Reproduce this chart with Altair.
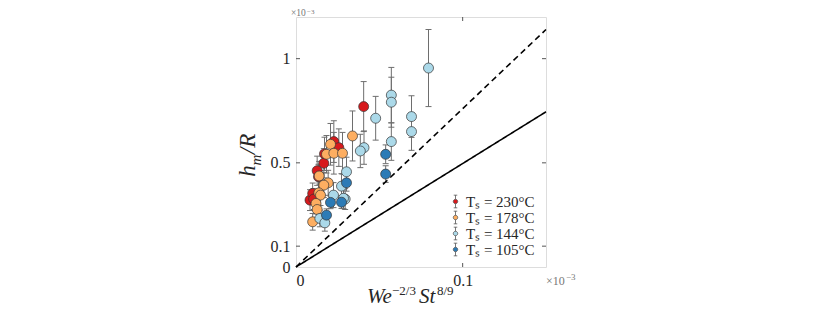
import altair as alt
import pandas as pd

# ---- data (x in units of 1e-3, y in units of 1e-3) ----
s230_x = [0.0406, 0.0227, 0.0257, 0.0171, 0.0167, 0.0127, 0.0135, 0.0084, 0.0100, 0.0106]
s230_y = [0.770, 0.602, 0.573, 0.543, 0.498, 0.462, 0.433, 0.321, 0.353, 0.326]
s230_e = [0.120, 0.100, 0.090, 0.080, 0.070, 0.070, 0.060, 0.050, 0.050, 0.050]

s178_x = [0.0339, 0.0207, 0.0183, 0.0227, 0.0279, 0.0139, 0.0193, 0.0167, 0.0137, 0.0147, 0.0120, 0.0127, 0.0100]
s178_y = [0.629, 0.589, 0.541, 0.546, 0.546, 0.437, 0.404, 0.393, 0.356, 0.345, 0.305, 0.276, 0.217]
s178_e = [0.120, 0.100, 0.090, 0.100, 0.100, 0.070, 0.060, 0.060, 0.060, 0.050, 0.050, 0.050, 0.040]

s144_x = [0.0795, 0.0572, 0.0572, 0.0478, 0.0693, 0.0693, 0.0572, 0.0408, 0.0386, 0.0303, 0.0273, 0.0225, 0.0295, 0.0285, 0.0143, 0.0173]
s144_y = [0.955, 0.825, 0.791, 0.714, 0.722, 0.650, 0.602, 0.573, 0.557, 0.457, 0.388, 0.345, 0.326, 0.330, 0.233, 0.212]
s144_e = [0.185, 0.133, 0.120, 0.105, 0.100, 0.090, 0.090, 0.080, 0.080, 0.070, 0.060, 0.060, 0.050, 0.050, 0.040, 0.040]

s105_x = [0.0538, 0.0538, 0.0303, 0.0273, 0.0207, 0.0183]
s105_y = [0.541, 0.446, 0.404, 0.311, 0.310, 0.249]
s105_e = [0.045, 0.040, 0.040, 0.030, 0.030, 0.030]

series_labels = ["Tₛ = 230°C", "Tₛ = 178°C", "Tₛ = 144°C", "Tₛ = 105°C"]
series_colors = ["#d7191c", "#fdae61", "#abd9e9", "#2c7bb6"]

line_x = [0.0, 0.15]
solid_y = [0.0, 0.745]
dashed_y = [0.0, 1.14]

x_ticks = [0.0, 0.1]
y_ticks = [0.0, 0.1, 0.5, 1.0]

rows = []
for lab, xs, ys, es in zip(series_labels,
                           [s230_x, s178_x, s144_x, s105_x],
                           [s230_y, s178_y, s144_y, s105_y],
                           [s230_e, s178_e, s144_e, s105_e]):
    for x, y, e in zip(xs, ys, es):
        rows.append({"series": lab, "x": x, "y": y, "lo": y - e, "hi": y + e,
                     "order": series_labels.index(lab)})
df = pd.DataFrame(rows)
lines_df = pd.DataFrame({"x": line_x * 2, "y": solid_y + dashed_y,
                         "kind": ["solid", "solid", "dashed", "dashed"]})

W, H = 250, 250
FONT = "Liberation Serif"
TXT = "#262626"
ERR = "#6e6e6e"

xs = alt.Scale(domain=[0, 0.15], nice=False, zero=False)
ys = alt.Scale(domain=[0, 1.2], nice=False, zero=False)

xenc = alt.X("x:Q", scale=xs, axis=alt.Axis(values=x_ticks, title=None, ticks=False, domain=False,
                                             grid=False, labelFont=FONT, labelFontSize=16,
                                             labelColor=TXT, labelPadding=5,
                                             labelExpr="datum.value == 0 ? '0' : format(datum.value, '.1f')"))
yenc = alt.Y("lo:Q", scale=ys, axis=alt.Axis(values=y_ticks, title=None, ticks=False, domain=False,
                                              grid=False, labelFont=FONT, labelFontSize=16,
                                              labelColor=TXT, labelPadding=6,
                                              labelExpr="datum.value == 0 ? '0' : datum.value == 1 ? '1' : format(datum.value, '.1f')"))

base = alt.Chart(df)

errbars = base.mark_rule(color=ERR, strokeWidth=1).encode(x=xenc, y=yenc, y2="hi:Q")
cap_shape = "M -1 0 L 1 0"
caps_lo = base.mark_point(shape=cap_shape, size=36, stroke=ERR, strokeWidth=1, filled=False,
                          opacity=1).encode(x="x:Q", y="lo:Q")
caps_hi = base.mark_point(shape=cap_shape, size=36, stroke=ERR, strokeWidth=1, filled=False,
                          opacity=1).encode(x="x:Q", y="hi:Q")

legend_path = ("M -0.35 0 A 0.35 0.35 0 1 0 0.35 0 A 0.35 0.35 0 1 0 -0.35 0 Z "
               "M 0 -1 L 0 -0.35 M 0 0.35 L 0 1 M -0.28 -1 L 0.28 -1 M -0.28 1 L 0.28 1")

points = base.mark_point(filled=True, size=100, stroke="#333333", strokeWidth=0.7, opacity=1).encode(
    x="x:Q", y="y:Q",
    color=alt.Color("series:N", scale=alt.Scale(domain=series_labels, range=series_colors),
                    legend=alt.Legend(title=None, orient="none", legendX=152, legendY=177,
                                      symbolType=legend_path, symbolSize=160,
                                      symbolStrokeColor="#555555", symbolStrokeWidth=0.8,
                                      symbolOpacity=1, labelFont=FONT, labelFontSize=15,
                                      labelColor=TXT, rowPadding=-2, labelOffset=3,
                                      padding=0)),
    order=alt.Order("order:Q"))

ref_lines = alt.Chart(lines_df).mark_line(color="black", strokeWidth=1.6).encode(
    x="x:Q", y="y:Q",
    strokeDash=alt.StrokeDash("kind:N", scale=alt.Scale(domain=["solid", "dashed"],
                                                        range=[[1, 0], [6, 4]]), legend=None),
    detail="kind:N")

xt = pd.DataFrame({"v": x_ticks[1:]})
yt = pd.DataFrame({"v": y_ticks[1:]})
tick_col = "#555555"
xb = alt.Chart(xt).mark_rule(color=tick_col).encode(x="v:Q", y=alt.value(H), y2=alt.value(H - 4))
xtop = alt.Chart(xt).mark_rule(color=tick_col).encode(x="v:Q", y=alt.value(0), y2=alt.value(4))
yl = alt.Chart(yt).mark_rule(color=tick_col).encode(y="v:Q", x=alt.value(0), x2=alt.value(4))
yr = alt.Chart(yt).mark_rule(color=tick_col).encode(y="v:Q", x=alt.value(W), x2=alt.value(W - 4))

one = pd.DataFrame({"a": [0]})
def txt(s, x, y, size, style="normal", color=TXT, align="left", angle=0, baseline="alphabetic"):
    return alt.Chart(one).mark_text(text=s, font=FONT, fontSize=size, fontStyle=style, color=color,
                                    align=align, baseline=baseline, angle=angle).encode(
        x=alt.value(x), y=alt.value(y))

GRAY = "#777777"
titles = [
    # x title  We^{-2/3} St^{8/9}
    txt("We", 71, 286, 21, "italic"),
    txt("−2/3", 96, 278, 13),
    txt("St", 123, 286, 21, "italic"),
    txt("8/9", 141, 278, 13),
    # y title  h_m / R  (rotated)
    txt("h", -41, 154, 23, "italic", align="center", angle=270),
    txt("m", -35, 143, 15, "italic", align="center", angle=270),
    txt("/R", -41, 127, 23, "italic", align="center", angle=270),
    # exponent markers
    txt("×10", -5, -1.5, 9.5, color=GRAY),
    txt("−3", 11, -3.5, 7, color=GRAY),
    txt("×10", 250, 268, 12, color=GRAY),
    txt("−3", 270, 263, 9, color=GRAY),
]

chart = alt.layer(errbars, caps_lo, caps_hi, ref_lines, points, xb, xtop, yl, yr, *titles).properties(
    width=W, height=H,
    autosize=alt.AutoSizeParams(type="none"),
    padding={"left": 288, "top": 9, "right": 40, "bottom": 40},
).configure_view(stroke="#8c8c8c", strokeWidth=1).configure(background="white")

chart.save("out.html", embed_options={"renderer": "svg", "actions": False})
